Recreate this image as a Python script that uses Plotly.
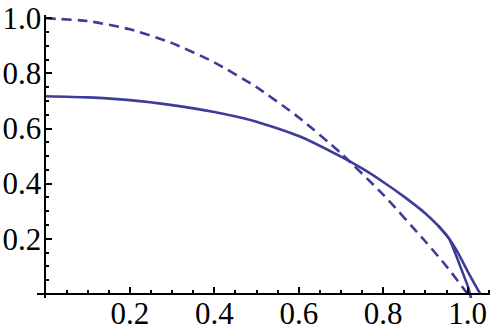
import plotly.graph_objects as go

# dashed curve
dash_x = [0.0, 0.1, 0.2, 0.3, 0.4, 0.5, 0.6, 0.7, 0.8, 0.9, 0.95, 1.0, 1.008]
dash_y = [1.0, 0.99, 0.96, 0.91, 0.84, 0.75, 0.64, 0.51, 0.36, 0.19, 0.10, 0.0, -0.016]

# solid curve, branch reaching ~1.03
solA_x = [0.0, 0.1, 0.2, 0.3, 0.4, 0.5, 0.6, 0.7, 0.75, 0.8, 0.85, 0.9, 0.93, 0.955, 0.977, 1.0, 1.015, 1.03]
solA_y = [0.717, 0.713, 0.703, 0.685, 0.66, 0.625, 0.573, 0.498, 0.455, 0.406, 0.352, 0.292, 0.248, 0.203, 0.150, 0.082, 0.040, 0.0]

# solid curve, branch ending ~1.0
solB_x = [0.93, 0.955, 0.97, 0.985, 1.001, 1.008]
solB_y = [0.248, 0.203, 0.150, 0.090, 0.025, -0.016]

xticks = [0.2, 0.4, 0.6, 0.8, 1.0]
xtick_text = ["0.2", "0.4", "0.6", "0.8", "1.0"]
yticks = [0.2, 0.4, 0.6, 0.8, 1.0]
ytick_text = ["0.2", "0.4", "0.6", "0.8", "1.0"]

color = "#3d3d99"
xr = [-0.02, 1.053]
yr = [-0.015, 1.012]

fig = go.Figure()
fig.add_trace(go.Scatter(x=dash_x, y=dash_y, mode="lines",
                         line=dict(color=color, width=2.6, dash="10px,6px", shape="spline", smoothing=0.6)))
fig.add_trace(go.Scatter(x=solA_x, y=solA_y, mode="lines",
                         line=dict(color=color, width=2.6, shape="spline", smoothing=0.6)))
fig.add_trace(go.Scatter(x=solB_x, y=solB_y, mode="lines",
                         line=dict(color=color, width=2.6, shape="spline", smoothing=0.6)))

font = dict(family="Liberation Serif", size=31, color="black")

fig.update_layout(
    width=500, height=335,
    margin=dict(l=37, r=10, t=15, b=37, autoexpand=False),
    paper_bgcolor="white", plot_bgcolor="white",
    showlegend=False,
    font=font,
    xaxis=dict(range=xr, showgrid=False, zeroline=False, automargin=False,
               anchor="free", position=(0 - yr[0]) / (yr[1] - yr[0]),
               showline=True, linecolor="black", linewidth=2,
               tickmode="array", tickvals=xticks, ticktext=xtick_text,
               ticks="inside", ticklen=6, tickwidth=1.5, tickcolor="black",
               ticklabelstandoff=-8,
               minor=dict(tickmode="linear", tick0=0, dtick=0.05, ticks="inside",
                          ticklen=3, tickwidth=1.5, tickcolor="black"),
               tickfont=font),
    yaxis=dict(range=yr, showgrid=False, zeroline=False, automargin=False,
               anchor="free", position=(0 - xr[0]) / (xr[1] - xr[0]),
               showline=True, linecolor="black", linewidth=2,
               tickmode="array", tickvals=yticks, ticktext=ytick_text,
               ticks="inside", ticklen=6, tickwidth=1.5, tickcolor="black",
               ticklabelstandoff=-3,
               minor=dict(tickmode="linear", tick0=0, dtick=0.05, ticks="inside",
                          ticklen=3, tickwidth=1.5, tickcolor="black"),
               tickfont=font),
)

fig.write_html("out.html", config={"displayModeBar": False},
               post_script="document.body.style.margin='0';document.body.style.overflow='hidden';")
